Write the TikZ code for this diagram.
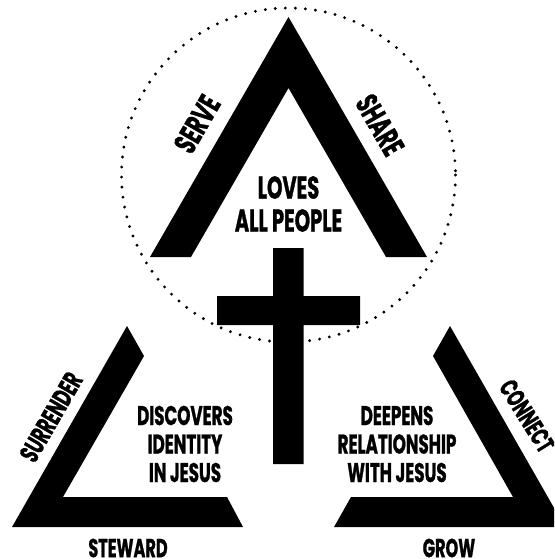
\documentclass[tikz,border=0pt]{standalone}
\usepackage{fontspec}
\setmainfont[FakeStretch=0.62,BoldFeatures={FakeBold=0.9}]{Poppins}
\begin{document}
\begin{tikzpicture}[x=1pt,y=-1pt,
  shapefill/.style={fill=black,draw=none},
  biglabel/.style={font=\bfseries\fontsize{31.5}{33}\selectfont,inner sep=0pt,align=center,anchor=center},
  midlabel/.style={font=\bfseries\fontsize{27}{28.5}\selectfont,inner sep=0pt,align=center,anchor=center}]
\useasboundingbox (0,0) rectangle (554,559);
\clip (0,0) rectangle (554,559);
\draw[line width=3.2pt,line cap=round,dash pattern=on 0pt off 10.05pt] (288.5,175) circle [radius=167];
\fill[shapefill] (288.5,17) -- (427,257) -- (386,257) -- (288.5,88) -- (191,257) -- (150,257) -- cycle;
\fill[shapefill] (273,248) -- (303.5,248) -- (303.5,296) -- (360,296) -- (360,325) -- (303.5,325) -- (303.5,464) -- (273,464) -- (273,325) -- (217,325) -- (217,296) -- (273,296) -- cycle;
\fill[shapefill] (127,326) -- (144,356) -- (63,497) -- (227,497) -- (243,527) -- (12,527) -- cycle;
\fill[shapefill] (450,326) -- (433,356) -- (513,497) -- (351,497) -- (334,527) -- (565,527) -- cycle;
\node[biglabel] (loves) at (288.5,204) {LOVES\\ALL PEOPLE};
\node[biglabel,rotate=60] (serve) at (197,124) {SERVE};
\node[biglabel,rotate=-60] (share) at (380,125) {SHARE};
\node[midlabel] (discovers) at (185,444) {DISCOVERS\\IDENTITY\\IN JESUS};
\node[midlabel] (deepens) at (397,444) {DEEPENS\\RELATIONSHIP\\WITH JESUS};
\node[midlabel,rotate=60] (surrender) at (51,417) {SURRENDER};
\node[midlabel,rotate=-58,font=\bfseries\fontsize{26}{28.5}\selectfont] (connect) at (527,416) {CONNECT};
\node[midlabel,font=\bfseries\fontsize{26}{28.5}\selectfont] (steward) at (128,548) {STEWARD};
\node[midlabel,font=\bfseries\fontsize{26}{28.5}\selectfont] (grow) at (449,548) {GROW};
\end{tikzpicture}
\end{document}
